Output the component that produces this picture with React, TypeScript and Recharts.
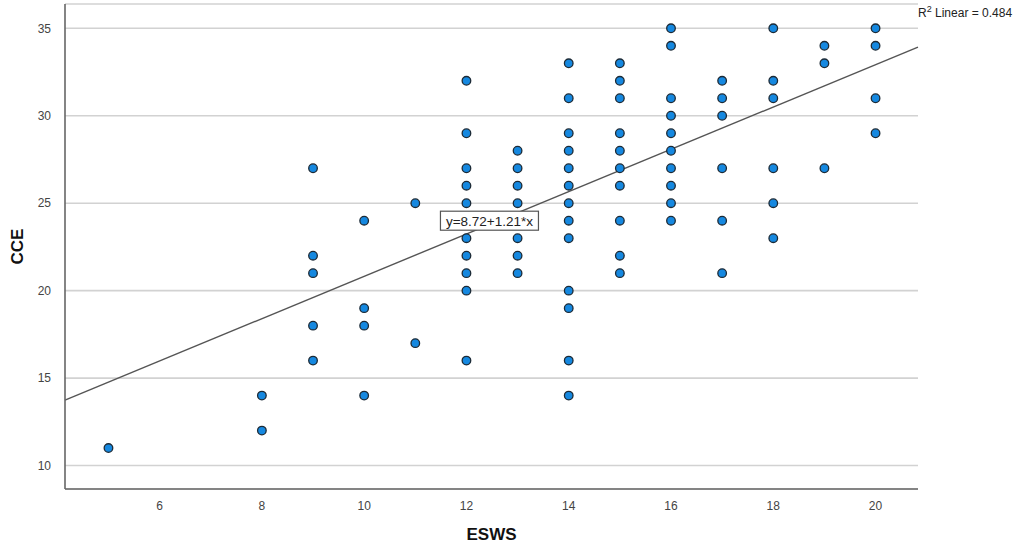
import React from "react";
import {
  ScatterChart,
  Scatter,
  XAxis,
  YAxis,
  CartesianGrid,
  ReferenceLine,
  ReferenceDot,
} from "recharts";

// ESWS values (x) and CCE values (y), read column by column
const eswsValues: number[] = [
  5,
  8, 8,
  9, 9, 9, 9, 9,
  10, 10, 10, 10,
  11, 11,
  12, 12, 12, 12, 12, 12, 12, 12, 12, 12,
  13, 13, 13, 13, 13, 13, 13,
  14, 14, 14, 14, 14, 14, 14, 14, 14, 14, 14, 14, 14,
  15, 15, 15, 15, 15, 15, 15, 15, 15, 15,
  16, 16, 16, 16, 16, 16, 16, 16, 16, 16,
  17, 17, 17, 17, 17, 17,
  18, 18, 18, 18, 18, 18,
  19, 19, 19,
  20, 20, 20, 20,
];
const cceValues: number[] = [
  11,
  14, 12,
  27, 22, 21, 18, 16,
  24, 19, 18, 14,
  25, 17,
  32, 29, 27, 26, 25, 23, 22, 21, 20, 16,
  28, 27, 26, 25, 23, 22, 21,
  33, 31, 29, 28, 27, 26, 25, 24, 23, 20, 19, 16, 14,
  33, 32, 31, 29, 28, 27, 26, 24, 22, 21,
  35, 34, 31, 30, 29, 28, 27, 26, 25, 24,
  32, 31, 30, 27, 24, 21,
  35, 32, 31, 27, 25, 23,
  34, 33, 27,
  35, 34, 31, 29,
];

const xTicks: number[] = [6, 8, 10, 12, 14, 16, 18, 20];
const yTicks: number[] = [10, 15, 20, 25, 30, 35];
const xDomain: number[] = [4.15, 20.83];
const yDomain: number[] = [8.66, 36.39];

const intercept = 8.72;
const slope = 1.21;
const r2Text = "0.484";
const equationLabel = "y=8.72+1.21*x";
const equationAnchor: number[] = [12.45, 24.0];

const points = eswsValues.map((x, i) => ({ x, y: cceValues[i] }));
const fitSegment = [
  { x: xDomain[0], y: intercept + slope * xDomain[0] },
  { x: xDomain[1], y: intercept + slope * xDomain[1] },
];

const FONT = "Arial, 'Liberation Sans', sans-serif";

const Dot = (props: any) => {
  const { cx, cy } = props;
  if (cx == null || cy == null) return null;
  return <circle cx={cx} cy={cy} r={4.3} fill="#1588e0" stroke="#1c2a36" strokeWidth={1.3} />;
};

const EqLabel = (props: any) => {
  const { cx, cy } = props;
  if (cx == null || cy == null) return null;
  const w = 98;
  const h = 19;
  return (
    <g>
      <rect x={cx - w / 2} y={cy - h / 2} width={w} height={h} fill="#ffffff" stroke="#555555" strokeWidth={1.2} />
      <text x={cx} y={cy + 5} textAnchor="middle" fontFamily={FONT} fontSize={13.5} fill="#222222">
        {equationLabel}
      </text>
    </g>
  );
};

export default function App() {
  return (
    <div style={{ position: "absolute", left: 0, top: 0, width: 1021, height: 543, background: "#fff" }}>
      <ScatterChart
        width={1021}
        height={543}
        margin={{ top: 4, right: 103, bottom: 0, left: 0 }}
      >
        <CartesianGrid horizontal vertical={false} stroke="#d2d2d2" strokeWidth={1.6} />
        <XAxis
          type="number"
          dataKey="x"
          domain={xDomain}
          ticks={xTicks}
          allowDataOverflow
          height={54}
          tickLine={false}
          axisLine={{ stroke: "#666666", strokeWidth: 1.6 }}
          tick={{ fill: "#444444", fontSize: 12, fontFamily: FONT }}
          tickMargin={6}
          label={{
            value: "ESWS",
            position: "insideBottom",
            offset: 3,
            style: { fontFamily: FONT, fontSize: 17, fontWeight: "bold", fill: "#111111" },
          }}
        />
        <YAxis
          type="number"
          dataKey="y"
          domain={yDomain}
          ticks={yTicks}
          allowDataOverflow
          width={65}
          tickLine={false}
          axisLine={{ stroke: "#666666", strokeWidth: 1.6 }}
          tick={{ fill: "#444444", fontSize: 12, fontFamily: FONT }}
          tickMargin={8}
          label={{
            value: "CCE",
            angle: -90,
            position: "insideLeft",
            offset: 17,
            style: { fontFamily: FONT, fontSize: 17, fontWeight: "bold", fill: "#111111", textAnchor: "middle" },
          }}
        />
        <ReferenceLine
          segment={fitSegment}
          stroke="#555555"
          strokeWidth={1.4}
          ifOverflow="visible"
        />
        <Scatter data={points} shape={<Dot />} isAnimationActive={false} />
        <ReferenceDot
          x={equationAnchor[0]}
          y={equationAnchor[1]}
          r={0}
          shape={<EqLabel />}
          ifOverflow="visible"
        />
      </ScatterChart>
      <div
        style={{
          position: "absolute",
          left: 918,
          top: 4,
          fontFamily: FONT,
          fontSize: 12,
          color: "#222222",
          whiteSpace: "nowrap",
        }}
      >
        R<sup style={{ fontSize: 9 }}>2</sup> Linear = {r2Text}
      </div>
    </div>
  );
}
